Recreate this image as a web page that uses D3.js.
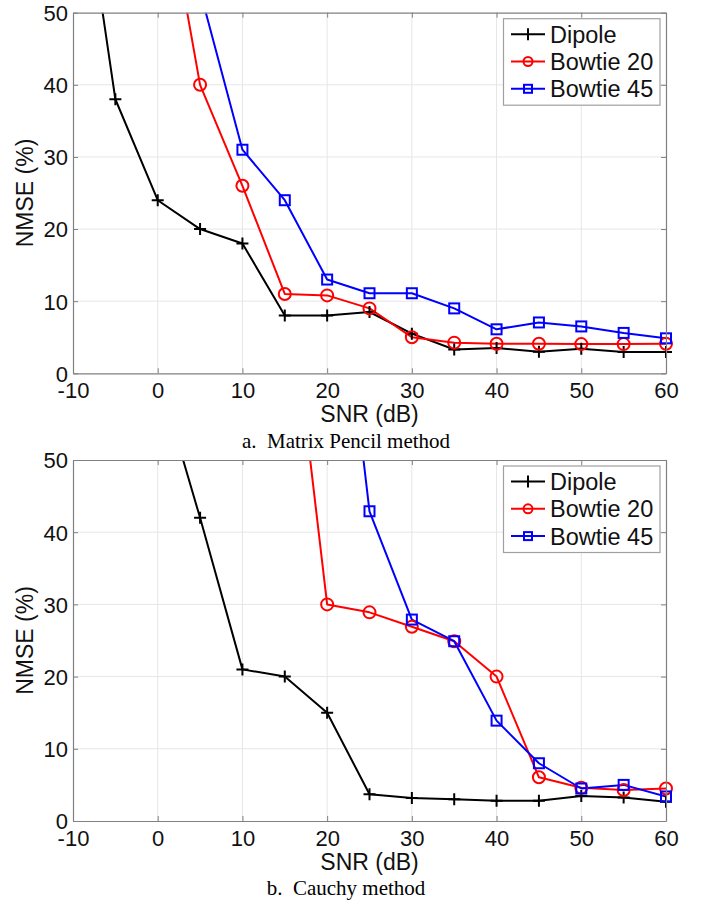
<!DOCTYPE html>
<html>
<head>
<meta charset="utf-8">
<script src="https://cdn.jsdelivr.net/npm/d3@7/dist/d3.min.js"></script>
<style>
  html, body { margin: 0; padding: 0; background: #fff; }
  svg { display: block; }
  .cap { white-space: pre; }
</style>
</head>
<body>
<svg id="chart" width="702" height="905"></svg>
<script>
// ---- data ----
const snr = [-10, -5, 0, 5, 10, 15, 20, 25, 30, 35, 40, 45, 50, 55, 60];
const xTicks = [-10, 0, 10, 20, 30, 40, 50, 60];
const yTicks = [0, 10, 20, 30, 40, 50];
const seriesNames = ["Dipole", "Bowtie 20", "Bowtie 45"];

// a. Matrix Pencil method
const dipoleA   = [78, 38, 24, 20, 18, 8, 8, 8.5, 5.5, 3.3, 3.5, 3.0, 3.4, 2.95, 2.95];
const bowtie20A = [null, null, 73, 40, 26, 11, 10.8, 9, 5, 4.25, 4.1, 4.1, 4.05, 4.05, 4.1];
const bowtie45A = [null, null, null, 53, 31, 24, 13, 11.1, 11.1, 9, 6.1, 7.05, 6.5, 5.6, 4.85];

// b. Cauchy method
const dipoleB   = [null, null, 62, 42, 21, 20, 15, 3.7, 3.2, 3.0, 2.8, 2.8, 3.45, 3.25, 2.65];
const bowtie20B = [null, null, null, null, null, 80, 30, 28.9, 26.9, 24.9, 20, 6.05, 4.6, 4.3, 4.5];
const bowtie45B = [null, null, null, null, null, null, 93, 42.9, 27.9, 24.9, 13.9, 8.0, 4.5, 5.0, 3.4];

const captions = ["a.  Matrix Pencil method", "b.  Cauchy method"];

// ---- drawing ----
const svg = d3.select("#chart");
const left = 73, right = 666;
const colors = ["#000000", "#ff0000", "#0000ff"];
const markers = ["plus", "circle", "square"];
const sansFont = "'Liberation Sans', Arial, Helvetica, sans-serif";
const serifFont = "'Liberation Serif', 'Times New Roman', serif";
const tickFs = 22, labelFs = 23, legendFs = 23.5;

function drawMarker(g, type, x, y, color) {
  if (type === "plus") {
    g.append("path")
      .attr("d", `M${x - 6},${y}H${x + 6}M${x},${y - 6}V${y + 6}`)
      .attr("stroke", color).attr("stroke-width", 2).attr("fill", "none");
  } else if (type === "circle") {
    g.append("circle").attr("cx", x).attr("cy", y).attr("r", 6)
      .attr("stroke", color).attr("stroke-width", 2).attr("fill", "none");
  } else {
    g.append("rect").attr("x", x - 5).attr("y", y - 5).attr("width", 10).attr("height", 10)
      .attr("stroke", color).attr("stroke-width", 2).attr("fill", "none");
  }
}

function drawPanel(idx, top, bottom, seriesList, caption, capOffset, xlabOffset) {
  const g = svg.append("g");
  const x = d3.scaleLinear().domain([-10, 60]).range([left, right]);
  const y = d3.scaleLinear().domain([0, 50]).range([bottom, top]);

  // grid
  g.append("g").selectAll("line").data(xTicks.slice(1, -1)).join("line")
    .attr("x1", d => x(d)).attr("x2", d => x(d)).attr("y1", top).attr("y2", bottom)
    .attr("stroke", "#e6e6e6").attr("stroke-width", 1);
  g.append("g").selectAll("line").data(yTicks.slice(1, -1)).join("line")
    .attr("y1", d => y(d)).attr("y2", d => y(d)).attr("x1", left).attr("x2", right)
    .attr("stroke", "#e6e6e6").attr("stroke-width", 1);

  // clip
  const clipId = "clip" + idx;
  svg.append("defs").append("clipPath").attr("id", clipId)
    .append("rect").attr("x", left).attr("y", top).attr("width", right - left).attr("height", bottom - top);

  // lines
  const line = d3.line()
    .defined(d => d[1] !== null)
    .x(d => x(d[0])).y(d => y(d[1]));
  seriesList.forEach((vals, i) => {
    const pts = snr.map((s, k) => [s, vals[k]]);
    g.append("path").datum(pts)
      .attr("d", line)
      .attr("clip-path", `url(#${clipId})`)
      .attr("fill", "none").attr("stroke", colors[i]).attr("stroke-width", 2)
      .attr("stroke-linejoin", "round");
  });
  // markers (only within limits)
  seriesList.forEach((vals, i) => {
    const mg = g.append("g");
    snr.forEach((s, k) => {
      const v = vals[k];
      if (v !== null && v <= 50) drawMarker(mg, markers[i], x(s), y(v), colors[i]);
    });
  });

  // axes
  const axisColor = "#808080";
  const fmt = d => String(d);

  const xAxis = d3.axisBottom(x).tickValues(xTicks).tickFormat(fmt).tickSizeInner(-5).tickSizeOuter(0).tickPadding(9);
  const xa = g.append("g").attr("transform", `translate(0,${bottom})`).call(xAxis);
  xa.select(".domain").attr("stroke", axisColor).attr("stroke-width", 1.2);
  xa.selectAll(".tick line").attr("stroke", axisColor);
  xa.selectAll(".tick text").attr("font-family", sansFont).attr("font-size", tickFs).attr("fill", "#111");

  const xTop = d3.axisTop(x).tickValues(xTicks).tickSizeInner(-5).tickSizeOuter(0).tickFormat("");
  const xt = g.append("g").attr("transform", `translate(0,${top})`).call(xTop);
  xt.select(".domain").attr("stroke", axisColor).attr("stroke-width", 1.2);
  xt.selectAll(".tick line").attr("stroke", axisColor);

  const yAxis = d3.axisLeft(y).tickValues(yTicks).tickFormat(fmt).tickSizeInner(-5).tickSizeOuter(0).tickPadding(5);
  const ya = g.append("g").attr("transform", `translate(${left},0)`).call(yAxis);
  ya.select(".domain").attr("stroke", axisColor).attr("stroke-width", 1.2);
  ya.selectAll(".tick line").attr("stroke", axisColor);
  ya.selectAll(".tick text").attr("font-family", sansFont).attr("font-size", tickFs).attr("fill", "#111")
    .attr("dy", "0.36em");

  const yRight = d3.axisRight(y).tickValues(yTicks).tickSizeInner(-5).tickSizeOuter(0).tickFormat("");
  const yr = g.append("g").attr("transform", `translate(${right},0)`).call(yRight);
  yr.select(".domain").attr("stroke", axisColor).attr("stroke-width", 1.2);
  yr.selectAll(".tick line").attr("stroke", axisColor);

  // axis labels
  g.append("text").attr("x", (left + right) / 2).attr("y", bottom + xlabOffset)
    .attr("text-anchor", "middle").attr("font-family", sansFont).attr("font-size", labelFs).attr("fill", "#111")
    .text("SNR (dB)");
  g.append("text").attr("transform", `translate(32.5,${(top + bottom) / 2}) rotate(-90)`)
    .attr("text-anchor", "middle").attr("font-family", sansFont).attr("font-size", labelFs).attr("fill", "#111")
    .text("NMSE (%)");
  // caption
  g.append("text").attr("class", "cap").attr("x", 346).attr("y", bottom + capOffset)
    .attr("text-anchor", "middle").attr("font-family", serifFont).attr("font-size", 21).attr("fill", "#000")
    .text(caption);

  // legend
  const lg = g.append("g");
  const lx0 = 503.5, lx1 = 660, ly0 = top + 6, ly1 = top + 92.5;
  lg.append("rect").attr("x", lx0).attr("y", ly0).attr("width", lx1 - lx0).attr("height", ly1 - ly0)
    .attr("fill", "#fff").attr("stroke", "#a0a0a0").attr("stroke-width", 1.2);
  seriesNames.forEach((name, i) => {
    const cy = ly0 + 15.5 + i * 27.3;
    lg.append("line").attr("x1", 511).attr("x2", 545).attr("y1", cy).attr("y2", cy)
      .attr("stroke", colors[i]).attr("stroke-width", 2);
    const mg = lg.append("g");
    if (markers[i] === "plus") {
      mg.append("path").attr("d", `M528,${cy - 6}V${cy + 6}`).attr("stroke", colors[i]).attr("stroke-width", 2);
    } else if (markers[i] === "circle") {
      mg.append("circle").attr("cx", 528).attr("cy", cy).attr("r", 4.5)
        .attr("stroke", colors[i]).attr("stroke-width", 2).attr("fill", "none");
    } else {
      mg.append("rect").attr("x", 524).attr("y", cy - 4).attr("width", 8).attr("height", 8)
        .attr("stroke", colors[i]).attr("stroke-width", 2).attr("fill", "none");
    }
    lg.append("text").attr("x", 550).attr("y", cy).attr("dy", "0.36em")
      .attr("font-family", sansFont).attr("font-size", legendFs).attr("fill", "#111")
      .text(name);
  });
}

drawPanel(0, 12.7, 373.3, [dipoleA, bowtie20A, bowtie45A], captions[0], 74.4, 48.4);
drawPanel(1, 460, 821, [dipoleB, bowtie20B, bowtie45B], captions[1], 74, 49);
</script>
</body>
</html>
